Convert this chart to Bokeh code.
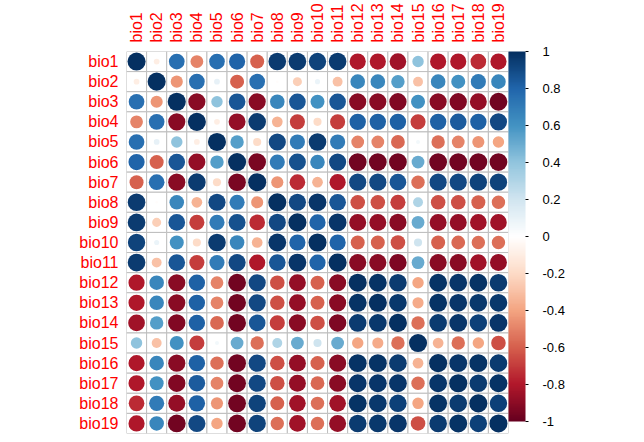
import math
from bokeh.plotting import figure
from bokeh.models import ColumnDataSource, LinearColorMapper, ColorBar, FixedTicker
from bokeh.transform import transform
from bokeh.embed import file_html
from bokeh.resources import INLINE

labels = ["bio1", "bio2", "bio3", "bio4", "bio5", "bio6", "bio7", "bio8", "bio9", "bio10",
          "bio11", "bio12", "bio13", "bio14", "bio15", "bio16", "bio17", "bio18", "bio19"]

bio1 = [1.00, -0.10, 0.75, -0.50, 0.75, 0.80, -0.60, 0.95, 0.95, 0.92, 0.95, -0.80, -0.80, -0.85, 0.40, -0.80, -0.80, -0.75, -0.80]
bio2 = [-0.10, 1.00, -0.45, 0.75, 0.10, -0.60, 0.75, -0.02, -0.25, 0.08, -0.30, 0.65, 0.65, 0.55, -0.30, 0.65, 0.60, 0.70, 0.65]
bio3 = [0.75, -0.45, 1.00, -0.90, 0.40, 0.85, -0.90, 0.65, 0.85, 0.60, 0.85, -0.90, -0.90, -0.92, 0.60, -0.90, -0.92, -0.88, -0.97]
bio4 = [-0.50, 0.75, -0.90, 1.00, -0.10, -0.88, 0.95, -0.35, -0.70, -0.20, -0.70, 0.82, 0.82, 0.82, -0.70, 0.82, 0.84, 0.82, 0.90]
bio5 = [0.75, 0.10, 0.40, -0.10, 1.00, 0.55, -0.20, 0.90, 0.70, 0.95, 0.70, -0.50, -0.50, -0.58, 0.05, -0.55, -0.50, -0.45, -0.40]
bio6 = [0.80, -0.60, 0.85, -0.88, 0.55, 1.00, -0.95, 0.70, 0.88, 0.65, 0.90, -0.97, -0.97, -0.97, 0.50, -0.97, -0.97, -0.97, -0.97]
bio7 = [-0.60, 0.75, -0.90, 0.95, -0.20, -0.95, 1.00, -0.45, -0.75, -0.35, -0.80, 0.90, 0.90, 0.85, -0.55, 0.90, 0.90, 0.92, 0.92]
bio8 = [0.95, -0.02, 0.65, -0.35, 0.90, 0.70, -0.45, 1.00, 0.90, 0.97, 0.85, -0.65, -0.65, -0.70, 0.30, -0.65, -0.65, -0.60, -0.55]
bio9 = [0.95, -0.25, 0.85, -0.70, 0.70, 0.88, -0.75, 0.90, 1.00, 0.80, 0.97, -0.88, -0.88, -0.90, 0.50, -0.88, -0.88, -0.85, -0.85]
bio10 = [0.92, 0.08, 0.60, -0.20, 0.95, 0.65, -0.35, 0.97, 0.80, 1.00, 0.80, -0.60, -0.60, -0.65, 0.20, -0.60, -0.58, -0.55, -0.55]
bio11 = [0.95, -0.30, 0.85, -0.70, 0.70, 0.90, -0.80, 0.85, 0.97, 0.80, 1.00, -0.90, -0.90, -0.93, 0.50, -0.90, -0.90, -0.85, -0.88]
bio12 = [-0.80, 0.65, -0.90, 0.82, -0.50, -0.97, 0.90, -0.65, -0.88, -0.60, -0.90, 1.00, 0.98, 0.95, -0.40, 0.98, 0.97, 0.98, 0.95]
bio13 = [-0.80, 0.65, -0.90, 0.82, -0.50, -0.97, 0.90, -0.65, -0.88, -0.60, -0.90, 0.98, 1.00, 0.96, -0.38, 0.98, 0.97, 0.96, 0.96]
bio14 = [-0.85, 0.55, -0.92, 0.82, -0.58, -0.97, 0.85, -0.70, -0.90, -0.65, -0.93, 0.95, 0.96, 1.00, -0.55, 0.95, 0.97, 0.93, 0.97]
bio15 = [0.40, -0.30, 0.60, -0.70, 0.05, 0.50, -0.55, 0.30, 0.50, 0.20, 0.50, -0.40, -0.38, -0.55, 1.00, -0.35, -0.55, -0.40, -0.65]
bio16 = [-0.80, 0.65, -0.90, 0.82, -0.55, -0.97, 0.90, -0.65, -0.88, -0.60, -0.90, 0.98, 0.98, 0.95, -0.35, 1.00, 0.97, 0.98, 0.95]
bio17 = [-0.80, 0.60, -0.92, 0.84, -0.50, -0.97, 0.90, -0.65, -0.88, -0.58, -0.90, 0.97, 0.97, 0.97, -0.55, 0.97, 1.00, 0.95, 0.98]
bio18 = [-0.75, 0.70, -0.88, 0.82, -0.45, -0.97, 0.92, -0.60, -0.85, -0.55, -0.85, 0.98, 0.96, 0.93, -0.40, 0.98, 0.95, 1.00, 0.93]
bio19 = [-0.80, 0.65, -0.97, 0.90, -0.40, -0.97, 0.92, -0.55, -0.85, -0.55, -0.88, 0.95, 0.96, 0.97, -0.65, 0.95, 0.98, 0.93, 1.00]

rows = [bio1, bio2, bio3, bio4, bio5, bio6, bio7, bio8, bio9, bio10,
        bio11, bio12, bio13, bio14, bio15, bio16, bio17, bio18, bio19]

cbar_ticks = [-1, -0.8, -0.6, -0.4, -0.2, 0, 0.2, 0.4, 0.6, 0.8, 1]
cbar_labels = ["-1", "-0.8", "-0.6", "-0.4", "-0.2", "0", "0.2", "0.4", "0.6", "0.8", "1"]

# corrplot default RdBu ramp (200 colours)
anchors = ["#67001F", "#B2182B", "#D6604D", "#F4A582", "#FDDBC7", "#FFFFFF",
           "#D1E5F0", "#92C5DE", "#4393C3", "#2166AC", "#053061"]


def ramp(cols, n):
    rgb = [tuple(int(c[i:i + 2], 16) for i in (1, 3, 5)) for c in cols]
    out = []
    for k in range(n):
        t = k / (n - 1) * (len(rgb) - 1)
        i = min(int(t), len(rgb) - 2)
        f = t - i
        a, b = rgb[i], rgb[i + 1]
        out.append("#%02x%02x%02x" % tuple(round(a[m] + (b[m] - a[m]) * f) for m in range(3)))
    return out


palette = ramp(anchors, 200)
mapper = LinearColorMapper(palette=palette, low=-1, high=1)

xs, ys, rs, rad = [], [], [], []
for i, row in enumerate(rows):
    for j, r in enumerate(row):
        xs.append(labels[j])
        ys.append(labels[i])
        rs.append(r)
        rad.append(0.45 * math.sqrt(abs(r)))
src = ColumnDataSource(dict(x=xs, y=ys, r=rs, radius=rad))

FONT = "Liberation Sans"

p = figure(x_range=labels, y_range=list(reversed(labels)), x_axis_location="above",
           frame_width=382, frame_height=382, min_border_left=126, min_border_top=0,
           min_border_bottom=3, min_border_right=0,
           output_backend="svg", toolbar_location=None)
p.outline_line_color = None
p.grid.visible = False
p.background_fill_color = "white"

p.rect("x", "y", width=1, height=1, source=src, fill_color="white",
       line_color="#BEBEBE", line_width=1)
p.circle("x", "y", radius="radius", source=src,
         fill_color=transform("r", mapper), line_color=None)

for ax in (p.xaxis[0], p.yaxis[0]):
    ax.axis_line_color = None
    ax.major_tick_line_color = None
    ax.minor_tick_line_color = None
    ax.major_label_text_color = "red"
    ax.major_label_text_font = FONT
    ax.major_label_text_font_size = "16px"
p.xaxis.major_label_orientation = math.pi / 2
p.xaxis.major_label_standoff = 3
p.yaxis.major_label_standoff = 2

cb = ColorBar(color_mapper=mapper, width=17, height=370,
              ticker=FixedTicker(ticks=cbar_ticks),
              major_label_overrides=dict(zip(cbar_ticks, cbar_labels)),
              major_label_text_font=FONT, major_label_text_font_size="13px",
              major_label_text_color="black", major_label_text_align="center",
              major_tick_line_color="black", major_tick_in=0, major_tick_out=3,
              minor_tick_line_color=None, bar_line_color=None,
              border_line_color=None, background_fill_color=None,
              label_standoff=14, padding=0, margin=7)
p.add_layout(cb, "right")

open("out.html", "w").write(file_html(p, INLINE))
